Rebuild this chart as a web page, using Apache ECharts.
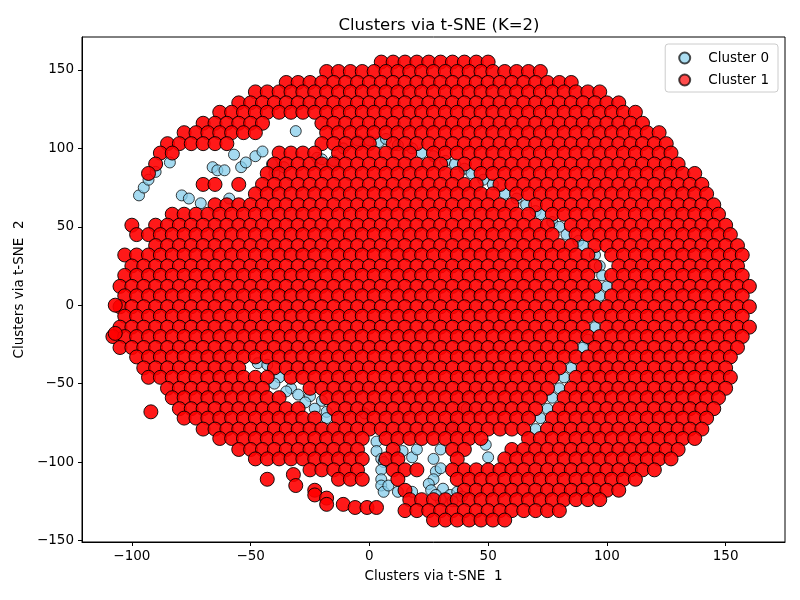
<!DOCTYPE html>
<html>
<head>
<meta charset="utf-8">
<script src="https://cdn.jsdelivr.net/npm/echarts@6/dist/echarts.min.js"></script>
<style>
html, body { margin: 0; background: #fff; }
#chart { width: 800px; height: 600px; }
</style>
</head>
<body>
<div id="chart"></div>
<script>
// tick labels
const xTicks = [-100, -50, 0, 50, 100, 150];
const yTicks = [-150, -100, -50, 0, 50, 100, 150];

// Cluster 1: one y per row, x positions in that row
const rowY = [155, 149, 142, 136, 129, 123, 116, 110, 103, 97, 90, 84, 77, 71, 64, 58, 51, 45, 38, 32, 25, 19, 12, 6,
    -1, -7, -14, -20, -27, -33, -40, -46, -53, -59, -66, -72, -79, -85, -92, -98, -105, -111, -118, -124, -131, -137];
const rowX = [
    [5, 10, 15, 20, 25, 30, 35, 40, 45, 50],
    [-18, -13, -8, -3, 2, 7, 12, 17, 22, 27, 32, 37, 42, 47, 52, 57, 62, 67, 72],
    [-35, -30, -25, -20, -15, -10, -5, 0, 5, 10, 15, 20, 25, 30, 35, 40, 45, 50, 55, 60, 65, 70, 75, 80, 85],
    [-48, -43, -38, -33, -28, -23, -18, -13, -8, -3, 2, 7, 12, 17, 22, 27, 32, 37, 42, 47, 52, 57, 62, 67, 72, 77, 82, 87, 92, 97],
    [-55, -50, -45, -40, -35, -30, -25, -20, -15, -10, -5, 0, 5, 10, 15, 20, 25, 30, 35, 40, 45, 50, 55, 60, 65, 70, 75, 80, 85, 90, 95, 100, 105],
    [-63, -58, -53, -48, -43, -38, -33, -28, -23, -18, -13, -8, -3, 2, 7, 12, 17, 22, 27, 32, 37, 42, 47, 52, 57, 62, 67, 72, 77, 82, 87, 92, 97, 102, 107, 112],
    [-70, -65, -60, -55, -50, -45, -20, -15, -10, -5, 0, 5, 10, 15, 20, 25, 30, 35, 40, 45, 50, 55, 60, 65, 70, 75, 80, 85, 90, 95, 100, 105, 110, 115],
    [-78, -73, -68, -63, -58, -53, -48, -18, -13, -8, -3, 2, 7, 12, 17, 22, 27, 32, 37, 42, 47, 52, 57, 62, 67, 72, 77, 82, 87, 92, 97, 102, 107, 112, 117, 122],
    [-85, -80, -75, -70, -65, -60, -20, -15, -10, -5, 0, 10, 15, 20, 25, 30, 35, 40, 45, 50, 55, 60, 65, 70, 75, 80, 85, 90, 95, 100, 105, 110, 115, 120, 125],
    [-88, -83, -38, -33, -28, -23, -13, -8, -3, 2, 7, 12, 17, 27, 32, 37, 42, 47, 52, 57, 62, 67, 72, 77, 82, 87, 92, 97, 102, 107, 112, 117, 122, 127],
    [-90, -40, -35, -30, -25, -20, -15, -10, -5, 0, 5, 10, 15, 20, 25, 30, 40, 45, 50, 55, 60, 65, 70, 75, 80, 85, 90, 95, 100, 105, 110, 115, 120, 125, 130],
    [-93, -43, -38, -33, -28, -23, -18, -13, -8, -3, 2, 7, 12, 17, 22, 27, 32, 37, 47, 52, 57, 62, 67, 72, 77, 82, 87, 92, 97, 102, 107, 112, 117, 122, 127, 132, 137],
    [-70, -65, -55, -45, -40, -35, -30, -25, -20, -15, -10, -5, 0, 5, 10, 15, 20, 25, 30, 35, 40, 45, 55, 60, 65, 70, 75, 80, 85, 90, 95, 100, 105, 110, 115, 120, 125, 130, 135, 140],
    [-48, -43, -38, -33, -28, -23, -18, -13, -8, -3, 2, 7, 12, 17, 22, 27, 32, 37, 42, 47, 52, 62, 67, 72, 77, 82, 87, 92, 97, 102, 107, 112, 117, 122, 127, 132, 137, 142],
    [-65, -60, -55, -50, -45, -40, -35, -30, -25, -20, -15, -10, -5, 0, 5, 10, 15, 20, 25, 30, 35, 40, 45, 50, 55, 60, 70, 75, 80, 85, 90, 95, 100, 105, 110, 115, 120, 125, 130, 135, 140, 145],
    [-83, -78, -73, -68, -63, -58, -53, -48, -43, -38, -33, -28, -23, -18, -13, -8, -3, 2, 7, 12, 17, 22, 27, 32, 37, 42, 47, 52, 57, 62, 67, 77, 82, 87, 92, 97, 102, 107, 112, 117, 122, 127, 132, 137, 142, 147],
    [-100, -90, -85, -80, -75, -70, -65, -60, -55, -50, -45, -40, -35, -30, -25, -20, -15, -10, -5, 0, 5, 10, 15, 20, 25, 30, 35, 40, 45, 50, 55, 60, 65, 70, 75, 85, 90, 95, 100, 105, 110, 115, 120, 125, 130, 135, 140, 145, 150],
    [-98, -93, -88, -83, -78, -73, -68, -63, -58, -53, -48, -43, -38, -33, -28, -23, -18, -13, -8, -3, 2, 7, 12, 17, 22, 27, 32, 37, 42, 47, 52, 57, 62, 67, 72, 77, 87, 92, 97, 102, 107, 112, 117, 122, 127, 132, 137, 142, 147, 152],
    [-90, -85, -80, -75, -70, -65, -60, -55, -50, -45, -40, -35, -30, -25, -20, -15, -10, -5, 0, 5, 10, 15, 20, 25, 30, 35, 40, 45, 50, 55, 60, 65, 70, 75, 80, 85, 95, 100, 105, 110, 115, 120, 125, 130, 135, 140, 145, 150, 155],
    [-103, -98, -93, -88, -83, -78, -73, -68, -63, -58, -53, -48, -43, -38, -33, -28, -23, -18, -13, -8, -3, 2, 7, 12, 17, 22, 27, 32, 37, 42, 47, 52, 57, 62, 67, 72, 77, 82, 87, 92, 102, 107, 112, 117, 122, 127, 132, 137, 142, 147, 152, 157],
    [-100, -95, -90, -85, -80, -75, -70, -65, -60, -55, -50, -45, -40, -35, -30, -25, -20, -15, -10, -5, 0, 5, 10, 15, 20, 25, 30, 35, 40, 45, 50, 55, 60, 65, 70, 75, 80, 85, 90, 95, 105, 110, 115, 120, 125, 130, 135, 140, 145, 150, 155],
    [-103, -98, -93, -88, -83, -78, -73, -68, -63, -58, -53, -48, -43, -38, -33, -28, -23, -18, -13, -8, -3, 2, 7, 12, 17, 22, 27, 32, 37, 42, 47, 52, 57, 62, 67, 72, 77, 82, 87, 92, 102, 107, 112, 117, 122, 127, 132, 137, 142, 147, 152, 157],
    [-105, -100, -95, -90, -85, -80, -75, -70, -65, -60, -55, -50, -45, -40, -35, -30, -25, -20, -15, -10, -5, 0, 5, 10, 15, 20, 25, 30, 35, 40, 45, 50, 55, 60, 65, 70, 75, 80, 85, 90, 95, 105, 110, 115, 120, 125, 130, 135, 140, 145, 150, 155, 160],
    [-103, -98, -93, -88, -83, -78, -73, -68, -63, -58, -53, -48, -43, -38, -33, -28, -23, -18, -13, -8, -3, 2, 7, 12, 17, 22, 27, 32, 37, 42, 47, 52, 57, 62, 67, 72, 77, 82, 87, 92, 102, 107, 112, 117, 122, 127, 132, 137, 142, 147, 152, 157],
    [-105, -100, -95, -90, -85, -80, -75, -70, -65, -60, -55, -50, -45, -40, -35, -30, -25, -20, -15, -10, -5, 0, 5, 10, 15, 20, 25, 30, 35, 40, 45, 50, 55, 60, 65, 70, 75, 80, 85, 90, 95, 100, 105, 110, 115, 120, 125, 130, 135, 140, 145, 150, 155, 160],
    [-103, -98, -93, -88, -83, -78, -73, -68, -63, -58, -53, -48, -43, -38, -33, -28, -23, -18, -13, -8, -3, 2, 7, 12, 17, 22, 27, 32, 37, 42, 47, 52, 57, 62, 67, 72, 77, 82, 87, 92, 97, 102, 107, 112, 117, 122, 127, 132, 137, 142, 147, 152, 157],
    [-105, -100, -95, -90, -85, -80, -75, -70, -65, -60, -55, -50, -45, -40, -35, -30, -25, -20, -15, -10, -5, 0, 5, 10, 15, 20, 25, 30, 35, 40, 45, 50, 55, 60, 65, 70, 75, 80, 85, 90, 100, 105, 110, 115, 120, 125, 130, 135, 140, 145, 150, 155, 160],
    [-108, -103, -98, -93, -88, -83, -78, -73, -68, -63, -58, -53, -48, -43, -38, -33, -28, -23, -18, -13, -8, -3, 2, 7, 12, 17, 22, 27, 32, 37, 42, 47, 52, 57, 62, 67, 72, 77, 82, 87, 92, 97, 102, 107, 112, 117, 122, 127, 132, 137, 142, 147, 152, 157],
    [-105, -100, -95, -90, -85, -80, -75, -70, -65, -60, -55, -50, -45, -40, -35, -30, -25, -20, -15, -10, -5, 0, 5, 10, 15, 20, 25, 30, 35, 40, 45, 50, 55, 60, 65, 70, 75, 80, 85, 95, 100, 105, 110, 115, 120, 125, 130, 135, 140, 145, 150, 155],
    [-98, -93, -88, -83, -78, -73, -68, -63, -58, -53, -48, -43, -38, -33, -28, -23, -18, -13, -8, -3, 2, 7, 12, 17, 22, 27, 32, 37, 42, 47, 52, 57, 62, 67, 72, 77, 82, 87, 92, 97, 102, 107, 112, 117, 122, 127, 132, 137, 142, 147, 152],
    [-95, -90, -85, -80, -75, -70, -65, -60, -55, -40, -35, -30, -25, -20, -15, -10, -5, 0, 5, 10, 15, 20, 25, 30, 35, 40, 45, 50, 55, 60, 65, 70, 75, 80, 90, 95, 100, 105, 110, 115, 120, 125, 130, 135, 140, 145, 150],
    [-93, -88, -83, -78, -73, -68, -63, -58, -53, -48, -43, -33, -28, -23, -18, -13, -8, -3, 2, 7, 12, 17, 22, 27, 32, 37, 42, 47, 52, 57, 62, 67, 72, 77, 87, 92, 97, 102, 107, 112, 117, 122, 127, 132, 137, 142, 147, 152],
    [-85, -80, -75, -70, -65, -60, -55, -50, -45, -25, -20, -15, -10, -5, 0, 5, 10, 15, 20, 25, 30, 35, 40, 45, 50, 55, 60, 65, 70, 75, 85, 90, 95, 100, 105, 110, 115, 120, 125, 130, 135, 140, 145, 150],
    [-83, -78, -73, -68, -63, -58, -53, -48, -43, -38, -18, -13, -8, -3, 2, 7, 12, 17, 22, 27, 32, 37, 42, 47, 52, 57, 62, 67, 72, 82, 87, 92, 97, 102, 107, 112, 117, 122, 127, 132, 137, 142, 147],
    [-80, -75, -70, -65, -60, -55, -50, -45, -40, -35, -30, -15, -10, -5, 0, 5, 10, 15, 20, 25, 30, 35, 40, 45, 50, 55, 60, 65, 70, 80, 85, 90, 95, 100, 105, 110, 115, 120, 125, 130, 135, 140, 145],
    [-78, -73, -68, -63, -58, -53, -48, -43, -38, -33, -28, -23, -13, -8, -3, 2, 7, 12, 17, 22, 27, 32, 37, 42, 47, 52, 57, 62, 67, 77, 82, 87, 92, 97, 102, 107, 112, 117, 122, 127, 132, 137, 142],
    [-70, -65, -60, -55, -50, -45, -40, -35, -30, -25, -20, -15, -10, -5, 0, 5, 10, 15, 20, 25, 30, 35, 40, 45, 50, 55, 60, 65, 75, 80, 85, 90, 95, 100, 105, 110, 115, 120, 125, 130, 135, 140],
    [-63, -58, -53, -48, -43, -38, -33, -28, -23, -18, -13, -8, -3, 7, 12, 17, 22, 27, 32, 37, 42, 47, 67, 72, 77, 82, 87, 92, 97, 102, 107, 112, 117, 122, 127, 132, 137],
    [-55, -50, -45, -40, -35, -30, -25, -20, -15, -10, -5, 10, 35, 40, 60, 65, 70, 75, 80, 85, 90, 95, 100, 105, 110, 115, 120, 125, 130],
    [-48, -43, -38, -33, -28, -23, -18, -13, -8, -3, 7, 12, 37, 57, 62, 67, 72, 77, 82, 87, 92, 97, 102, 107, 112, 117, 122, 127],
    [-25, -20, -15, -10, -5, 10, 15, 20, 35, 40, 45, 50, 55, 60, 65, 70, 75, 80, 85, 90, 95, 100, 105, 110, 115, 120],
    [-13, -8, -3, 12, 37, 42, 47, 52, 57, 62, 67, 72, 77, 82, 87, 92, 97, 102, 107, 112],
    [15, 40, 45, 50, 55, 60, 65, 70, 75, 80, 85, 90, 95, 100, 105],
    [17, 22, 27, 32, 37, 42, 47, 52, 57, 62, 67, 72, 77, 82, 87, 92, 97],
    [15, 20, 25, 30, 35, 40, 45, 50, 55, 60, 65, 70, 75, 80],
    [27, 32, 37, 42, 47, 52, 57]
];

// stray Cluster 1 points off the main mass
const cluster1Extra = [
    [-107, 0], [-107, -18], [-92, -68], [-43, -111], [-32, -108], [-31, -115], [-23, -118], [-23, -121],
    [-18, -123], [-18, -127], [-11, -127], [-6, -129], [-1, -129], [3, -129]
];

// Cluster 0 points that show through the gaps
const cluster0Points = [
    [-97, 70], [-95, 75], [-93, 80], [-90, 85], [-84, 91], [-79, 70], [-76, 68], [-71, 65], [-66, 88], [-64, 86],
    [-61, 86], [-59, 68], [-57, 96], [-54, 88], [-52, 91], [-48, 95], [-45, 98], [-41, 90], [-40, 84], [-36, 88],
    [-31, 111], [-22, 94], [-20, 93], [-15, 92], [-11, 100], [-5, 105], [0, 105], [4, 104], [7, 106], [12, 102],
    [18, 100], [22, 97], [27, 95], [32, 92], [36, 90], [40, 87], [43, 84], [48, 80], [52, 77], [57, 71],
    [62, 68], [66, 64], [70, 60], [72, 58], [77, 53], [80, 50], [83, 45], [88, 41], [90, 38], [95, 32],
    [97, 25], [98, 19], [100, 12], [97, 6], [95, -14], [92, -22], [90, -27], [85, -40], [82, -46], [80, -53],
    [77, -59], [75, -66], [72, -72], [70, -79],
    [-47, -37], [-43, -38], [-38, -46], [-40, -50], [-33, -53], [-35, -55], [-30, -57], [-25, -58], [-20, -61],
    [-27, -62], [-23, -66], [-18, -68], [-18, -72],
    [-2, -69], [3, -87], [3, -93], [5, -98], [6, -100], [5, -105], [5, -111], [5, -115], [6, -119], [8, -115],
    [12, -119], [18, -119], [14, -93], [18, -97], [20, -92], [27, -98], [28, -106], [27, -111], [30, -104],
    [30, -92], [35, -77], [41, -66], [49, -89], [50, -97], [25, -114], [26, -118], [31, -117], [34, -121],
    [37, -119], [39, -122], [30, -124], [35, -125], [28, -121]
];

const cluster1Points = [];
rowY.forEach(function (y, i) {
    rowX[i].forEach(function (x) {
        cluster1Points.push([x, y]);
    });
});
cluster1Extra.forEach(function (p) {
    cluster1Points.push(p);
});

const font = 'DejaVu Sans';
const minus = function (v) {
    return String(v).replace('-', '\u2212');
};

const chart = echarts.init(document.getElementById('chart'), null, { renderer: 'canvas' });

const option = {
    animation: false,
    backgroundColor: '#ffffff',
    title: {
        text: 'Clusters via t-SNE (K=2)',
        left: 434,
        top: 12,
        textAlign: 'center',
        textStyle: {
            fontFamily: font,
            fontSize: 16.5,
            fontWeight: 'normal',
            color: '#000'
        }
    },
    legend: {
        orient: 'vertical',
        right: 22,
        top: 44,
        padding: [7, 9, 5, 13],
        itemWidth: 11,
        itemHeight: 11,
        itemGap: 8,
        icon: 'circle',
        borderColor: '#cccccc',
        borderWidth: 1,
        borderRadius: 3,
        backgroundColor: 'rgba(255,255,255,0.8)',
        textStyle: {
            fontFamily: font,
            fontSize: 13.5,
            color: '#000',
            padding: [0, 0, 0, 13]
        },
        data: [
            { name: 'Cluster 0', itemStyle: { opacity: 0.7 } },
            { name: 'Cluster 1', itemStyle: { opacity: 0.7 } }
        ]
    },
    grid: {
        left: 82,
        right: 15,
        top: 37,
        bottom: 58,
        show: true,
        borderColor: '#000',
        borderWidth: 1,
        containLabel: false
    },
    xAxis: {
        type: 'value',
        min: -121,
        max: 175,
        name: 'Clusters via t-SNE  1',
        nameLocation: 'middle',
        nameGap: 27,
        nameTextStyle: { fontFamily: font, fontSize: 13.5, color: '#000' },
        axisLine: { show: true, onZero: false, lineStyle: { color: '#000', width: 1 } },
        axisTick: { show: true, length: 4, customValues: xTicks, lineStyle: { color: '#000' } },
        axisLabel: {
            customValues: xTicks,
            margin: 7,
            fontFamily: font,
            fontSize: 13.5,
            color: '#000',
            formatter: minus
        },
        splitLine: { show: false }
    },
    yAxis: {
        type: 'value',
        min: -151,
        max: 171,
        name: 'Clusters via t-SNE  2',
        nameLocation: 'middle',
        nameGap: 55,
        nameTextStyle: { fontFamily: font, fontSize: 13.5, color: '#000' },
        axisLine: { show: true, onZero: false, lineStyle: { color: '#000', width: 1 } },
        axisTick: { show: true, length: 4, customValues: yTicks, lineStyle: { color: '#000' } },
        axisLabel: {
            customValues: yTicks,
            margin: 8,
            fontFamily: font,
            fontSize: 13.5,
            color: '#000',
            formatter: minus
        },
        splitLine: { show: false }
    },
    series: [
        {
            name: 'Cluster 0',
            type: 'scatter',
            data: cluster0Points,
            symbol: 'circle',
            symbolSize: 11,
            z: 2,
            itemStyle: {
                color: '#87ceeb',
                borderColor: '#000',
                borderWidth: 1,
                opacity: 0.75
            },
            emphasis: { disabled: true }
        },
        {
            name: 'Cluster 1',
            type: 'scatter',
            data: cluster1Points,
            symbol: 'circle',
            symbolSize: 14,
            z: 3,
            itemStyle: {
                color: '#ff0000',
                borderColor: '#000',
                borderWidth: 1,
                opacity: 0.9
            },
            emphasis: { disabled: true }
        }
    ]
};

chart.setOption(option);
</script>
</body>
</html>
